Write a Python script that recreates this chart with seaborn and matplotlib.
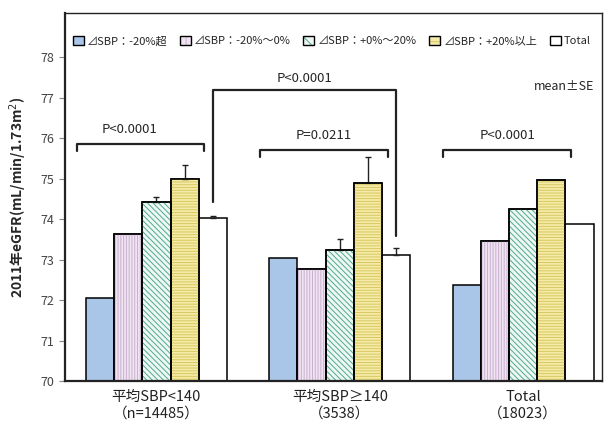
import numpy as np
import pandas as pd
import matplotlib
matplotlib.use('Agg')
import matplotlib.pyplot as plt
from matplotlib.patches import Rectangle
import seaborn as sns

# DATA
groups = ['平均SBP<140\n（n=14485）', '平均SBP≥140\n（3538）', 'Total\n（18023）']
levels = ['⊿SBP：-20%超', '⊿SBP：-20%～0%', '⊿SBP：+0%～20%', '⊿SBP：+20%以上', 'Total']
means_lt140 = [72.05, 73.63, 74.42, 75.00, 74.02]
means_ge140 = [73.04, 72.77, 73.23, 74.89, 73.11]
means_total = [72.37, 73.46, 74.25, 74.98, 73.88]
se_lt140 = [0, 0, 0.13, 0.33, 0.07]
se_ge140 = [0, 0, 0.27, 0.64, 0.17]
se_total = [0, 0, 0, 0, 0]
p_labels = ['P<0.0001', 'P=0.0211', 'P<0.0001']
p_between = 'P<0.0001'

fills = ['#a9c5e8', '#f1e4f2', '#eef7f3', '#f4eba8', '#ffffff']
hatches = [None, '||||||', '\\\\\\\\\\\\', '------', None]
hatch_cols = [None, '#c9b0d0', '#4faa90', '#d9c860', None]

df = pd.DataFrame({
    'group': np.repeat(groups, len(levels)),
    'level': levels * len(groups),
    'mean': means_lt140 + means_ge140 + means_total,
    'se': se_lt140 + se_ge140 + se_total,
})

sns.set_style('white')
plt.rcParams['font.family'] = ['Noto Sans CJK JP', 'DejaVu Sans']
plt.rcParams['hatch.linewidth'] = 0.7

fig = plt.figure(figsize=(6.05, 4.25), dpi=100)
ax = fig.add_axes([0.107, 0.1035, 0.888, 0.866])

sns.barplot(data=df, x='group', y='mean', hue='level', hue_order=levels,
            palette=fills, saturation=1, width=0.77, edgecolor='black', linewidth=1.1,
            errorbar=None, legend=False, ax=ax)
bars = list(ax.containers)

# hatch overlay + one-sided error bars
for i, cont in enumerate(bars):
    sub = df[df['level'] == levels[i]].reset_index(drop=True)
    for j, bar in enumerate(cont.patches):
        if hatches[i]:
            ax.add_patch(Rectangle((bar.get_x(), 70), bar.get_width(), bar.get_height() - 70,
                                   facecolor='none', edgecolor=hatch_cols[i], lw=0,
                                   hatch=hatches[i], zorder=bar.get_zorder() + 0.1))
            ax.add_patch(Rectangle((bar.get_x(), 70), bar.get_width(), bar.get_height() - 70,
                                   facecolor='none', edgecolor='black', lw=1.1,
                                   zorder=bar.get_zorder() + 0.2))
        se = sub.loc[j, 'se']
        if se > 0:
            cx = bar.get_x() + bar.get_width() / 2
            ax.errorbar(cx, bar.get_height(), yerr=[[0], [se]], fmt='none',
                        ecolor='#222222', elinewidth=1.0, capsize=2.5, zorder=1)

ax.set_ylim(70, 79.1)
ax.set_xlim(-0.5, 2.43)
ax.set_yticks(range(70, 79))
ax.tick_params(axis='y', left=True, length=4, width=0.8, color='#888888',
               labelsize=9, labelcolor='#444444')
ax.tick_params(axis='x', bottom=False, labelsize=10.5, labelcolor='#222222', pad=3)
ax.set_xlabel('')
ax.set_ylabel('2011年eGFR(mL/min/1.73m$^2$)', fontsize=10, fontweight='bold', labelpad=8)
for s in ['left', 'bottom']:
    ax.spines[s].set_linewidth(1.6)
for s in ['top', 'right']:
    ax.spines[s].set_linewidth(1.0)
for s in ax.spines.values():
    s.set_color('#222222')

# brackets within groups
bh = 0.17
for g in range(3):
    first = bars[0].patches[g]
    yel = bars[3].patches[g]
    x0 = first.get_x() - 0.05
    x1 = yel.get_x() + yel.get_width() + 0.03
    y = 75.85 if g == 0 else 75.72
    ax.plot([x0, x0, x1, x1], [y - bh, y, y, y - bh], color='#222222', lw=1.6)
    tx = (x0 + x1) / 2 - (0.06 if g == 0 else 0)
    ax.text(tx, y + 0.2, p_labels[g], ha='center', va='bottom', fontsize=9.5)

# bracket between the Total bars of groups 1 and 2
w1 = bars[4].patches[0]
w2 = bars[4].patches[1]
xa = w1.get_x() + w1.get_width() / 2
xb = w2.get_x() + w2.get_width() / 2
ax.plot([xa, xa, xb, xb], [74.42, 77.2, 77.2, 73.58], color='#222222', lw=1.6)
ax.text((xa + xb) / 2, 77.33, p_between, ha='center', va='bottom', fontsize=9.5)

ax.text(0.985, 0.80, 'mean±SE', transform=ax.transAxes, ha='right', va='center', fontsize=9)

handles = []
for i in range(len(levels)):
    base = Rectangle((0, 0), 1, 1, facecolor=fills[i], edgecolor='none', lw=0)
    if hatches[i]:
        hp = Rectangle((0, 0), 1, 1, facecolor='none', edgecolor=hatch_cols[i],
                       lw=0, hatch=hatches[i][:3])
    else:
        hp = Rectangle((0, 0), 1, 1, facecolor='none', edgecolor='none', lw=0)
    edge = Rectangle((0, 0), 1, 1, facecolor='none', edgecolor='black', lw=1.0)
    handles.append((base, hp, edge))
ax.legend(handles, levels, ncol=5, loc='center', bbox_to_anchor=(0.497, 0.924),
          frameon=False, fontsize=8, handlelength=1.0, handleheight=1.0,
          handletextpad=0.3, columnspacing=1.1, borderaxespad=0)

plt.savefig('out.png', dpi=100)
plt.close()
